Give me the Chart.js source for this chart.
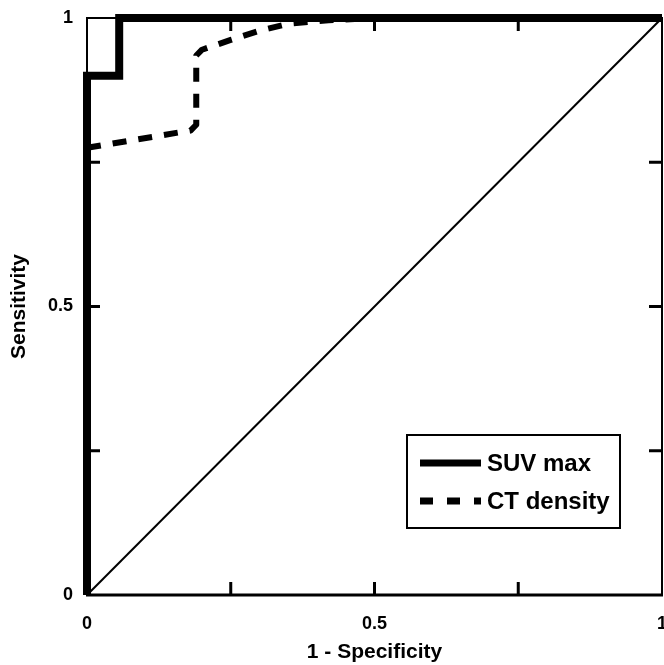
<!DOCTYPE html>
<html>
<head>
<meta charset="utf-8">
<script src="https://cdn.jsdelivr.net/npm/chart.js@4.4.1/dist/chart.umd.min.js"></script>
<style>
  html, body { margin: 0; padding: 0; background: #fff; }
  #wrap { width: 664px; height: 665px; }
</style>
</head>
<body>
<div id="wrap"><canvas id="c" width="664" height="665"></canvas></div>
<script>
// ---- Data ----
const suvX = [0, 0, 0.056, 0.056, 1];
const suvY = [0, 0.9, 0.9, 1, 1];
const ctX = [0, 0.18, 0.19, 0.19, 0.2, 0.25, 0.3, 0.35, 0.42, 0.5, 1];
const ctY = [0.775, 0.805, 0.815, 0.935, 0.945, 0.962, 0.978, 0.99, 0.996, 1, 1];
const refX = [0, 1];
const refY = [0, 1];
const tickValues = [0, 0.25, 0.5, 0.75, 1];
const tickLabels = {0: '0', 0.5: '0.5', 1: '1'};
const seriesNames = ['SUV max', 'CT density'];
const xTitle = '1 - Specificity';
const yTitle = 'Sensitivity';

const toPts = (xs, ys) => xs.map((x, i) => ({x: x, y: ys[i]}));
const FONT = "'Liberation Sans', Arial, Helvetica, sans-serif";

const framePlugin = {
  id: 'frame',
  afterDatasetsDraw(chart) {
    const {ctx, chartArea: a, scales: {x, y}} = chart;
    ctx.save();
    ctx.strokeStyle = '#000';
    ctx.lineCap = 'butt';
    ctx.lineWidth = 2;
    ctx.beginPath();
    ctx.moveTo(a.left, a.bottom); ctx.lineTo(a.left, a.top);
    ctx.lineTo(a.right, a.top); ctx.lineTo(a.right, a.bottom);
    ctx.stroke();
    ctx.lineWidth = 3;
    ctx.beginPath();
    ctx.moveTo(a.left - 1, a.bottom); ctx.lineTo(a.right + 1, a.bottom);
    ctx.stroke();
    ctx.lineWidth = 3;
    const L = 13;
    tickValues.forEach(v => {
      if (v === 0 || v === 1) return;
      const px = x.getPixelForValue(v);
      const py = y.getPixelForValue(v);
      ctx.beginPath();
      ctx.moveTo(px, a.bottom); ctx.lineTo(px, a.bottom - L);
      ctx.moveTo(px, a.top); ctx.lineTo(px, a.top + L);
      ctx.moveTo(a.left, py); ctx.lineTo(a.left + L, py);
      ctx.moveTo(a.right, py); ctx.lineTo(a.right - L, py);
      ctx.stroke();
    });
    ctx.restore();
  },
  afterDraw(chart) {
    const {ctx} = chart;
    const ds = chart.data.datasets;
    ctx.save();
    ctx.fillStyle = '#fff';
    ctx.fillRect(407, 435, 213, 93);
    ctx.strokeStyle = '#000';
    ctx.lineWidth = 2;
    ctx.strokeRect(407, 435, 213, 93);
    const rows = [463, 501];
    [0, 1].forEach((di, r) => {
      const d = ds[di];
      ctx.lineWidth = 7;
      ctx.setLineDash(di === 0 ? [] : [13, 14]);
      ctx.lineCap = 'butt';
      ctx.beginPath();
      ctx.moveTo(420, rows[r]);
      ctx.lineTo(481, rows[r]);
      ctx.stroke();
      ctx.setLineDash([]);
      ctx.fillStyle = '#000';
      ctx.font = "bold 24px " + FONT;
      ctx.textBaseline = 'middle';
      ctx.textAlign = 'left';
      ctx.fillText(d.label, 487, rows[r] + 1);
    });
    ctx.restore();
  }
};

new Chart(document.getElementById('c'), {
  type: 'scatter',
  data: {
    datasets: [
      {
        label: seriesNames[0],
        data: toPts(suvX, suvY),
        showLine: true,
        borderColor: '#000',
        backgroundColor: '#000',
        borderWidth: 8,
        pointRadius: 0,
        borderJoinStyle: 'miter',
        clip: false,
        order: 1
      },
      {
        label: seriesNames[1],
        data: toPts(ctX, ctY),
        showLine: true,
        borderColor: '#000',
        backgroundColor: '#000',
        borderWidth: 6,
        borderDash: [14, 12],
        borderJoinStyle: 'round',
        pointRadius: 0,
        tension: 0,
        clip: false,
        order: 2
      },
      {
        label: 'ref',
        data: toPts(refX, refY),
        showLine: true,
        borderColor: '#000',
        borderWidth: 2,
        pointRadius: 0,
        clip: false,
        order: 3
      }
    ]
  },
  options: {
    responsive: false,
    animation: false,
    devicePixelRatio: 1,
    layout: { padding: { top: 18, right: 2, left: 0, bottom: 0 } },
    plugins: { legend: { display: false }, tooltip: { enabled: false } },
    scales: {
      x: {
        type: 'linear', min: 0, max: 1,
        grid: { display: false, drawTicks: false },
        border: { display: false },
        afterBuildTicks: s => { s.ticks = tickValues.map(v => ({value: v})); },
        afterFit: s => { s.height = 70; s.paddingLeft = 0; s.paddingRight = 0; },
        ticks: {
          autoSkip: false, maxRotation: 0,
          padding: 18,
          color: '#000',
          font: { family: FONT, size: 18, weight: 'bold' },
          callback: v => tickLabels[v] !== undefined ? tickLabels[v] : ''
        },
        title: {
          display: true, text: xTitle, color: '#000',
          font: { family: FONT, size: 21, weight: 'bold' },
          padding: { top: 0, bottom: 0 }
        }
      },
      y: {
        type: 'linear', min: 0, max: 1,
        grid: { display: false, drawTicks: false },
        border: { display: false },
        afterBuildTicks: s => { s.ticks = tickValues.map(v => ({value: v})); },
        afterFit: s => { s.width = 87; s.paddingTop = 0; s.paddingBottom = 0; },
        ticks: {
          autoSkip: false,
          padding: 14,
          color: '#000',
          font: { family: FONT, size: 18, weight: 'bold' },
          callback: v => tickLabels[v] !== undefined ? tickLabels[v] : ''
        },
        title: {
          display: true, text: yTitle, color: '#000',
          font: { family: FONT, size: 21, weight: 'bold' },
          padding: { top: 7, bottom: 0 }
        }
      }
    }
  },
  plugins: [framePlugin]
});
</script>
</body>
</html>
